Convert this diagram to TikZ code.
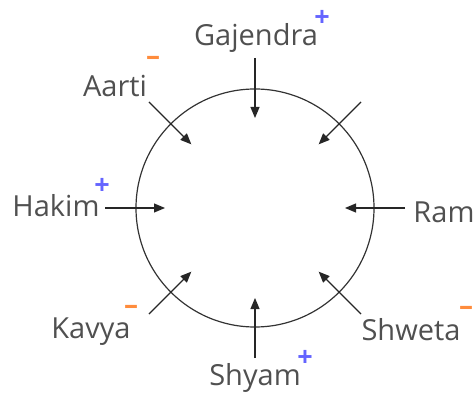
\documentclass[tikz,border=0pt]{standalone}
\usepackage{fontspec}
\setmainfont{Open Sans}
\usepackage{xcolor}
\usetikzlibrary{arrows.meta, calc}

\definecolor{plusblue}{RGB}{100,100,255}
\definecolor{minusorange}{RGB}{255,140,60}
\definecolor{labelgray}{RGB}{80,80,80}

\begin{document}
\begin{tikzpicture}[
        x=1pt, y=1pt,
        member/.style={
            text=labelgray,
            font=\fontsize{29}{32}\selectfont,
            inner sep=0pt,
            anchor=base
        },
        possign/.style={
            text=plusblue,
            font=\fontsize{27}{29}\selectfont\bfseries,
            inner sep=0pt
        },
        negsign/.style={
            text=minusorange,
            font=\fontsize{28}{30}\selectfont\bfseries,
            inner sep=0pt
        },
        force/.style={
            draw=black!85,
            line width=1.2pt,
            -{Triangle[length=11pt, width=9pt]}
        }
    ]
        \useasboundingbox (0,0) rectangle (476,399);

        % Circle
        \node [draw=black!80, line width=1.2pt, circle, minimum size=238pt, inner sep=0pt] (ring) at (255,191) {};

        % Arrows
        \foreach \a in {0,45,...,315} {
            \coordinate (from\a) at ($(ring.center)+(\a:150)$);
            \coordinate (to\a) at ($(ring.center)+(\a:90)$);
            \draw [force] (from\a) -- (to\a);
        }

        % Names
        \node [member] (gajendra) at (256,353) {Gajendra};
        \node [member] (aarti) at (115,302) {Aarti};
        \node [member] (hakim) at (56,182) {Hakim};
        \node [member] (ram) at (444,176) {Ram};
        \node [member] (kavya) at (91,61) {Kavya};
        \node [member] (shweta) at (411,59) {Shweta};
        \node [member] (shyam) at (255,14) {Shyam};

        % Signs
        \node [possign] (gajendrasign) at (322,381) {+};
        \node [negsign] (aartisign) at (153,338) {--};
        \node [possign] (hakimsign) at (102,213) {+};
        \node [negsign] (kavyasign) at (131,89) {--};
        \node [negsign] (shwetasign) at (466,88) {--};
        \node [possign] (shyamsign) at (305,41) {+};

    \end{tikzpicture}
\end{document}
